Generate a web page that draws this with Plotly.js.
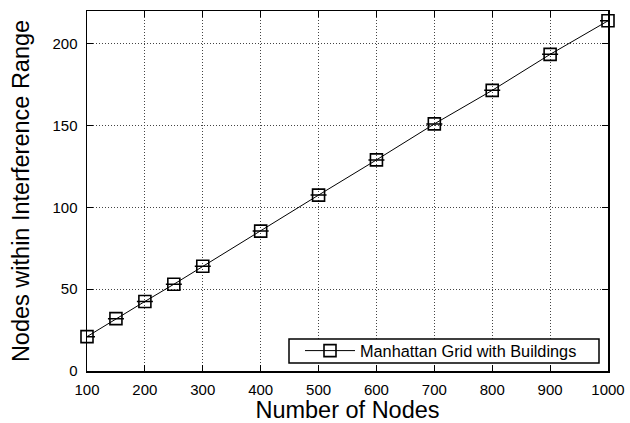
<!DOCTYPE html>
<html>
<head>
<meta charset="utf-8">
<script src="https://cdn.plot.ly/plotly-3.0.1.min.js"></script>
<style>html,body{margin:0;padding:0;background:#fff;}#chart{width:630px;height:423px;}</style>
</head>
<body>
<div id="chart"></div>
<script>
const nodes = [100, 150, 200, 250, 300, 400, 500, 600, 700, 800, 900, 1000];
const inRange = [21, 32, 42.5, 53, 64, 85.5, 107.5, 129, 151, 171.5, 193.5, 214];
const seriesName = 'Manhattan Grid with Buildings';
const xTicks = [100, 200, 300, 400, 500, 600, 700, 800, 900, 1000];
const yTicks = [0, 50, 100, 150, 200];

const font = 'Liberation Sans, Arial, Helvetica, sans-serif';

const trace = {
  x: nodes,
  y: inRange,
  name: seriesName,
  type: 'scatter',
  mode: 'lines+markers',
  cliponaxis: false,
  line: {color: '#000', width: 1},
  marker: {symbol: 'square-open', size: 12, color: '#000', line: {width: 1.6, color: '#000'}},
  error_y: {type: 'data', array: nodes.map(() => 0), visible: true, color: '#000', thickness: 1.5, width: 8},
  showlegend: true
};

const axisCommon = {
  showline: true, linecolor: '#000', linewidth: 1.5, mirror: 'allticks',
  ticks: 'inside', ticklen: 6, tickcolor: '#000', tickwidth: 1,
  showgrid: true, gridcolor: '#444', griddash: '1px,2px', gridwidth: 1,
  zeroline: false,
  tickfont: {family: font, size: 15, color: '#000'}
};

// plot area in paper fractions (for legend box)
const plotL = 87, plotR = 608, plotT = 11, plotB = 371;
const pw = plotR - plotL, ph = plotB - plotT;

const layout = {
  width: 630, height: 423,
  margin: {l: plotL, r: 630 - plotR, t: plotT, b: 423 - plotB},
  paper_bgcolor: '#fff', plot_bgcolor: '#fff',
  font: {family: font, color: '#000'},
  xaxis: Object.assign({}, axisCommon, {
    range: [100, 1000], tickvals: xTicks, ticklabelstandoff: 4,
    title: {text: 'Number of Nodes', font: {family: font, size: 23.5, color: '#000'}, standoff: 4}
  }),
  yaxis: Object.assign({}, axisCommon, {
    range: [0, 220], tickvals: yTicks, ticklabelstandoff: 5,
    title: {text: 'Nodes within Interference Range', font: {family: font, size: 23.5, color: '#000'}, standoff: 16}
  }),
  shapes: [{
    type: 'rect', xref: 'paper', yref: 'paper', layer: 'above',
    x0: (289 - plotL) / pw, x1: (599 - plotL) / pw,
    y0: (plotB - 363) / ph, y1: (plotB - 339) / ph,
    fillcolor: '#fff', line: {color: '#000', width: 1.5}
  }],
  showlegend: true,
  legend: {
    x: (300 - plotL) / pw, y: (plotB - 351) / ph, xanchor: 'left', yanchor: 'middle',
    bgcolor: 'rgba(0,0,0,0)', borderwidth: 0,
    font: {family: font, size: 16.3, color: '#000'},
    itemwidth: 50
  }
};

Plotly.newPlot('chart', [trace], layout, {displayModeBar: false, staticPlot: true});
</script>
</body>
</html>
